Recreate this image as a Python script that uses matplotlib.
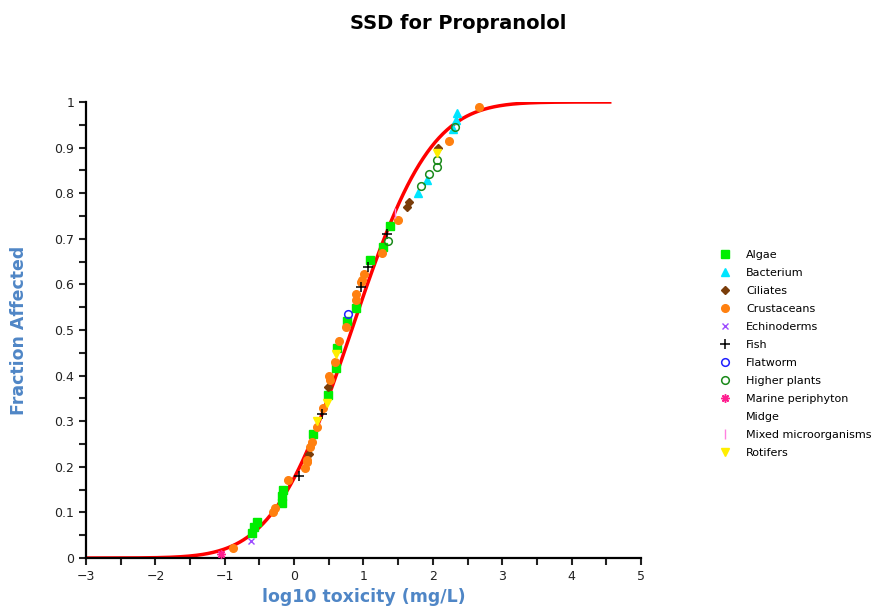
import math
import numpy as np
import matplotlib
matplotlib.use("Agg")
import matplotlib.pyplot as plt
from matplotlib.ticker import MultipleLocator, FuncFormatter

# fitted log-normal SSD
mu, sigma = 0.83, 0.89

algae_x = [-0.61, -0.58, -0.54, -0.17, -0.17, -0.16, 0.27, 0.49, 0.60, 0.62, 0.76, 0.89, 1.10, 1.28, 1.38]
algae_y = [0.055, 0.068, 0.080, 0.120, 0.135, 0.150, 0.272, 0.357, 0.417, 0.460, 0.520, 0.548, 0.653, 0.682, 0.728]

bact_x = [1.79, 1.92, 2.29, 2.33, 2.35]
bact_y = [0.800, 0.830, 0.940, 0.960, 0.976]

cil_x = [0.22, 0.49, 1.63, 1.66, 2.07]
cil_y = [0.228, 0.375, 0.770, 0.780, 0.900]

crus_x = [-0.88, -0.30, -0.28, -0.09, 0.16, 0.19, 0.19, 0.23, 0.26, 0.33, 0.42, 0.52, 0.50,
          0.59, 0.65, 0.75, 0.89, 0.89, 0.97, 0.98, 1.01, 1.27, 1.50, 2.23, 2.67]
crus_y = [0.022, 0.100, 0.110, 0.170, 0.197, 0.210, 0.215, 0.243, 0.254, 0.287, 0.330, 0.390,
          0.400, 0.430, 0.476, 0.507, 0.566, 0.579, 0.605, 0.610, 0.623, 0.668, 0.741, 0.914, 0.990]

echi_x = [-0.62]
echi_y = [0.037]

fish_x = [0.07, 0.40, 0.97, 1.07, 1.34]
fish_y = [0.180, 0.316, 0.594, 0.638, 0.710]

flat_x = [0.78]
flat_y = [0.535]

plant_x = [1.35, 1.83, 1.95, 2.06, 2.06, 2.32]
plant_y = [0.695, 0.816, 0.842, 0.857, 0.873, 0.946]

marine_x = [-1.05]
marine_y = [0.009]

mixed_x = [1.46]
mixed_y = [0.757]

rot_x = [0.33, 0.475, 0.60, 2.06]
rot_y = [0.300, 0.340, 0.447, 0.888]

fig = plt.figure(figsize=(8.78, 6.07), dpi=100)
ax = fig.add_axes([0.098, 0.0807, 0.632, 0.7513])

xs = np.linspace(-3, 4.55, 400)
ys = np.array([0.5 * (1 + math.erf((v - mu) / (sigma * math.sqrt(2)))) for v in xs])
ax.plot(xs, ys, color="red", lw=2.5, zorder=2)

kw = dict(ls="none", clip_on=False, zorder=3)
ax.plot(algae_x, algae_y, marker="s", ms=5.5, color="#00ee00", label="Algae", **kw)
ax.plot(bact_x, bact_y, marker="^", ms=5.5, color="#00e5ff", label="Bacterium", **kw)
ax.plot(cil_x, cil_y, marker="D", ms=4.5, color="#7a3d0a", label="Ciliates", **kw)
ax.plot(crus_x, crus_y, marker="o", ms=5.5, color="#ff8010", label="Crustaceans", **kw)
ax.plot(echi_x, echi_y, marker="x", ms=5, mew=1, color="#9d4dff", label="Echinoderms", **kw)
ax.plot(fish_x, fish_y, marker="+", ms=7, mew=1.1, color="black", label="Fish", **kw)
ax.plot(flat_x, flat_y, marker="o", ms=5.5, mfc="none", mew=1.1, color="#2020ff", label="Flatworm", **kw)
ax.plot(plant_x, plant_y, marker="o", ms=5.5, mfc="none", mew=1.1, color="#1a8a1a", label="Higher plants", **kw)
ax.plot(marine_x, marine_y, marker=(8, 2, 0), ms=6, mew=1.1, color="#ff2090", label="Marine periphyton", **kw)
ax.plot([], [], marker="none", ls="none", label="Midge")
ax.plot(mixed_x, mixed_y, marker="|", ms=7, mew=1, color="#ff80e0", label="Mixed microorganisms", **kw)
ax.plot(rot_x, rot_y, marker="v", ms=5.5, color="#ffee00", label="Rotifers", **kw)

ax.set_xlim(-3, 5)
ax.set_ylim(0, 1)
ax.xaxis.set_major_locator(MultipleLocator(1))
ax.xaxis.set_minor_locator(MultipleLocator(0.5))
ax.yaxis.set_major_locator(MultipleLocator(0.1))
ax.yaxis.set_minor_locator(MultipleLocator(0.05))
ax.yaxis.set_major_formatter(FuncFormatter(lambda v, p: f"{round(v, 1):g}"))
ax.tick_params(which="both", length=5, width=1.5, labelsize=9, colors="#222222")
for s in ["top", "right"]:
    ax.spines[s].set_visible(False)
for s in ["left", "bottom"]:
    ax.spines[s].set_linewidth(1.6)

ax.set_xlabel("log10 toxicity (mg/L)", fontsize=12.5, fontweight="bold", color="#4f86c6", labelpad=4)
ax.set_ylabel("Fraction Affected", fontsize=12.5, fontweight="bold", color="#4f86c6", labelpad=19)
fig.suptitle("SSD for Propranolol", fontsize=14, fontweight="bold", x=0.522, y=0.977)

fig.legend(loc="center left", bbox_to_anchor=(0.813, 0.417), frameon=False, fontsize=8,
           handlelength=1.0, handletextpad=1.4, labelspacing=0.72, borderpad=0, markerscale=1.0)

fig.savefig("out.png", dpi=100)
